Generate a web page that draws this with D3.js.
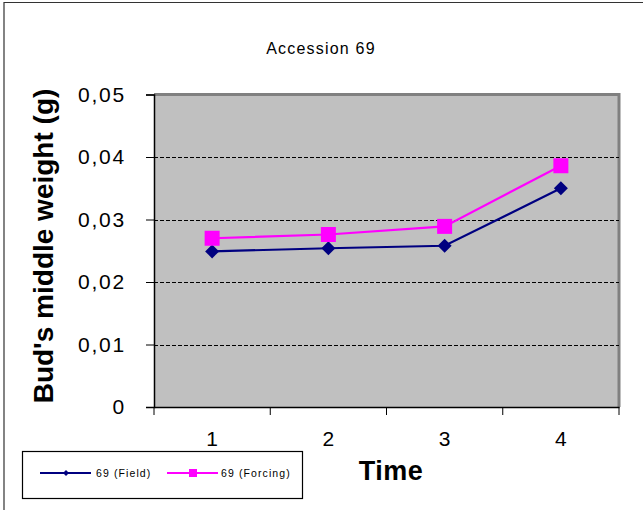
<!DOCTYPE html>
<html><head><meta charset="utf-8">
<script src="https://cdn.jsdelivr.net/npm/d3@7"></script>
<style>body{margin:0;background:#fff;} svg{display:block;font-family:Arial,"Liberation Sans",sans-serif;}</style>
</head><body>
<svg id="c" width="643" height="510"></svg>
<script>
const categories = ["1", "2", "3", "4"];
const fieldValues = [0.0249, 0.0254, 0.0258, 0.0350];
const forcingValues = [0.0270, 0.0276, 0.0289, 0.0386];
const yTicks = [0, 0.01, 0.02, 0.03, 0.04, 0.05];
const seriesNames = ["69 (Field)", "69 (Forcing)"];

const svg = d3.select("#c");
const L = 154, R = 619, T = 94.5, B = 407;

// outer border (top & left)
svg.append("path").attr("d", `M4,510 V2.5 H643`).attr("fill","none").attr("stroke","#333").attr("stroke-width",1.2);

const x = d3.scaleBand().domain(categories).range([L, R]);
const y = d3.scaleLinear().domain([0, 0.05]).range([B, T]);

// plot area
svg.append("rect").attr("x", L).attr("y", T).attr("width", R - L).attr("height", B - T).attr("fill", "#c0c0c0");
svg.append("path").attr("d", `M${L},${T} H${R} V${B}`).attr("fill","none").attr("stroke","#808080").attr("stroke-width",3);

// gridlines
svg.append("g").selectAll("line").data(yTicks.filter(v => v > 0 && v < 0.05)).join("line")
  .attr("x1", L).attr("x2", R).attr("y1", d => Math.round(y(d)) + 0.5).attr("y2", d => Math.round(y(d)) + 0.5)
  .attr("stroke", "#000").attr("stroke-width", 1).attr("stroke-dasharray", "4,2");

// y axis
const yAxis = d3.axisLeft(y).tickValues(yTicks).tickSize(8).tickPadding(20)
  .tickFormat(d => d === 0 ? "0" : d3.format(".2f")(d).replace(".", ","));
const gy = svg.append("g").attr("transform", `translate(${L},0)`).call(yAxis);
gy.select(".domain").attr("stroke", "#000").attr("stroke-width", 1.5);
gy.selectAll(".tick line").attr("stroke", "#000");
gy.selectAll("text").attr("font-size", 21).attr("letter-spacing", 1.8).attr("fill", "#000")
  .attr("font-family", "Arial, 'Liberation Sans', sans-serif");

// x axis
const gx = svg.append("g").attr("transform", `translate(0,${B})`).call(d3.axisBottom(x).tickSize(0).tickPadding(24));
gx.select(".domain").attr("stroke", "#000").attr("stroke-width", 1.5);
gx.selectAll("text").attr("font-size", 21).attr("fill", "#000").attr("font-family", "Arial, 'Liberation Sans', sans-serif");
// category boundary ticks
const bounds = categories.map(c => x(c)).concat([x(categories[categories.length-1]) + x.bandwidth()]);
svg.append("g").selectAll("line").data(bounds).join("line")
  .attr("x1", d => d).attr("x2", d => d).attr("y1", B).attr("y2", B + 8).attr("stroke", "#000");

// lines
const line = d3.line().x((d, i) => x(categories[i]) + x.bandwidth() / 2).y(d => y(d));
svg.append("path").datum(fieldValues).attr("d", line).attr("fill", "none").attr("stroke", "#000080").attr("stroke-width", 2.2);
svg.append("path").datum(forcingValues).attr("d", line).attr("fill", "none").attr("stroke", "#ff00ff").attr("stroke-width", 2.2);

svg.append("g").selectAll("path").data(fieldValues).join("path")
  .attr("transform", (d, i) => `translate(${x(categories[i]) + x.bandwidth() / 2},${y(d)})`)
  .attr("d", "M0,-7 L7,0 L0,7 L-7,0 Z").attr("fill", "#000080");
svg.append("g").selectAll("rect").data(forcingValues).join("rect")
  .attr("x", (d, i) => x(categories[i]) + x.bandwidth() / 2 - 7.5).attr("y", d => y(d) - 7.5)
  .attr("width", 15).attr("height", 15).attr("fill", "#ff00ff");

// title
svg.append("text").attr("x", 321).attr("y", 54).attr("text-anchor", "middle").attr("font-size", 16).attr("letter-spacing", 1.2).attr("fill", "#000").text("Accession 69");

// axis titles
svg.append("text").attr("transform", "translate(53,246) rotate(-90)").attr("text-anchor", "middle")
  .attr("font-size", 28).attr("font-weight", "bold").attr("fill", "#000").text("Bud's middle weight (g)");
svg.append("text").attr("x", 391).attr("y", 480).attr("text-anchor", "middle")
  .attr("font-size", 27).attr("font-weight", "bold").attr("letter-spacing", 0.5).attr("fill", "#000").text("Time");

// legend
const lg = svg.append("g");
lg.append("rect").attr("x", 22.5).attr("y", 451.5).attr("width", 280).attr("height", 47).attr("fill", "#fff").attr("stroke", "#000").attr("stroke-width", 1.2);
lg.append("line").attr("x1", 40).attr("x2", 91).attr("y1", 473).attr("y2", 473).attr("stroke", "#000080").attr("stroke-width", 2.2);
lg.append("path").attr("transform", "translate(66,473)").attr("d", "M0,-3 L3,0 L0,3 L-3,0 Z").attr("fill", "#000080");
lg.append("text").attr("x", 96).attr("y", 477).attr("font-size", 10.5).attr("letter-spacing", 1.1).attr("fill", "#000").text(seriesNames[0]);
lg.append("line").attr("x1", 167).attr("x2", 218).attr("y1", 473).attr("y2", 473).attr("stroke", "#ff00ff").attr("stroke-width", 2.2);
lg.append("rect").attr("x", 189).attr("y", 469).attr("width", 8).attr("height", 8).attr("fill", "#ff00ff");
lg.append("text").attr("x", 221).attr("y", 477).attr("font-size", 10.5).attr("letter-spacing", 1.1).attr("fill", "#000").text(seriesNames[1]);
</script>
</body></html>
